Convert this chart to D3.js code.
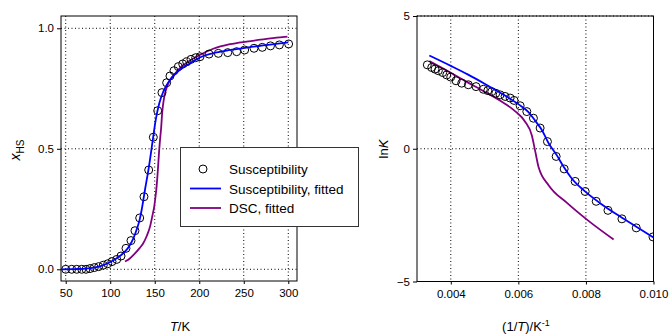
<!DOCTYPE html>
<html>
<head>
<meta charset="utf-8">
<script src="https://cdn.jsdelivr.net/npm/d3@7"></script>
<style>
  body { margin: 0; background: #fff; }
  svg text { font-family: "Liberation Sans", Arial, sans-serif; fill: #000; }
</style>
</head>
<body>
<script>
'use strict';

// left panel: spin fraction vs temperature
const suscT = [50, 56.7, 62.4, 68, 72.8, 77.3, 82.1, 87, 92.2, 97.2, 102, 107.3, 112.1, 117.7, 123.3, 127.8,
  133.1, 137.9, 143.2, 148.4, 153.3, 158.1, 163.4, 167.1, 171.6, 176.5, 181.4, 185.9, 190.7, 196, 200.8,
  211, 221.4, 232, 242, 251, 261.5, 270.8, 280, 290, 300.4];
const suscX = [0.0, 0.0, 0.0, 0.0, 0.0, 0.003, 0.007, 0.011, 0.017, 0.023, 0.032, 0.041, 0.055, 0.087, 0.119, 0.160,
  0.213, 0.301, 0.412, 0.548, 0.658, 0.733, 0.774, 0.802, 0.824, 0.841, 0.852, 0.861, 0.871, 0.878, 0.882,
  0.893, 0.896, 0.899, 0.903, 0.910, 0.917, 0.921, 0.927, 0.931, 0.935];

const fitT = [44.7, 60, 70, 80, 90, 100, 107, 112, 117, 122, 126, 130, 133, 135.3, 139, 143.5, 147.3, 151.1,
  155.1, 159.6, 167, 178, 190, 200, 215, 235, 255, 275, 300];
const fitX = [0.000, 0.001, 0.002, 0.006, 0.014, 0.030, 0.045, 0.058, 0.075, 0.100, 0.128, 0.168, 0.205, 0.246,
  0.329, 0.426, 0.523, 0.620, 0.689, 0.737, 0.785, 0.827, 0.855, 0.878, 0.896, 0.910, 0.921, 0.930, 0.942];

const dscT = [116.6, 122, 127.8, 133, 137.1, 141, 144.7, 147.5, 149.5, 150.8, 152, 153, 154, 155, 156, 157,
  158.5, 160, 161.5, 164, 167.1, 172, 178, 189.6, 200, 215.7, 234.5, 253.2, 271.9, 290.6, 299];
const dscX = [0.032, 0.045, 0.066, 0.088, 0.108, 0.138, 0.177, 0.225, 0.262, 0.300, 0.340, 0.385, 0.440, 0.495,
  0.540, 0.578, 0.655, 0.700, 0.730, 0.760, 0.785, 0.808, 0.834, 0.866, 0.888, 0.915, 0.934, 0.945, 0.954, 0.962, 0.965];

// right panel: ln K vs 1/T
const suscInvT = [0.003306, 0.003435, 0.003533, 0.003632, 0.003761, 0.00388, 0.003998, 0.004156, 0.004324,
  0.00452, 0.004748, 0.004964, 0.005095, 0.005213, 0.005332, 0.005459, 0.005607, 0.005756, 0.005874,
  0.006052, 0.00625, 0.006446, 0.006644, 0.006861, 0.007119, 0.007356, 0.007681, 0.007978, 0.008304,
  0.008652, 0.009065, 0.009489, 0.009984];
const suscLnK = [3.16, 3.06, 3.00, 2.94, 2.87, 2.78, 2.70, 2.56, 2.47, 2.41, 2.34, 2.24, 2.19, 2.15, 2.09, 2.03,
  1.97, 1.91, 1.82, 1.62, 1.40, 1.15, 0.78, 0.27, -0.29, -0.76, -1.23, -1.61, -1.98, -2.32, -2.64, -2.98, -3.32];

const fitInvT = [0.003365, 0.0040, 0.0045, 0.0050, 0.0055, 0.0060, 0.0063, 0.0065, 0.0067, 0.0069, 0.00714,
  0.00734, 0.00758, 0.00793, 0.00842, 0.00892, 0.00941, 0.0100];
const fitLnK = [3.51, 3.12, 2.80, 2.45, 2.08, 1.68, 1.38, 1.05, 0.70, 0.20, -0.25, -0.68, -1.12, -1.56, -2.05,
  -2.48, -2.87, -3.34];

const dscInvT = [0.003365, 0.0040, 0.0045, 0.0050, 0.0055, 0.0059, 0.0062, 0.0064, 0.0065, 0.0066, 0.0069,
  0.00744, 0.00803, 0.00882];
const dscLnK = [3.30, 2.86, 2.50, 2.15, 1.78, 1.42, 1.02, 0.50, -0.10, -0.70, -1.38, -2.04, -2.67, -3.42];

const leftXTicks = [50, 100, 150, 200, 250, 300];
const leftYTicks = [0, 0.5, 1.0];
const rightXTicks = [0.004, 0.006, 0.008, 0.010];
const rightYTicks = [-5, 0, 5];
const legendLabels = ["Susceptibility", "Susceptibility, fitted", "DSC, fitted"];

const blue = "#0000ff";
const purple = "#800080";

const svg = d3.select("body").append("svg")
  .attr("width", 670)
  .attr("height", 336);

function zip(a, b) { return a.map((v, i) => [v, b[i]]); }

// draws one panel, returns the scales
function drawPanel(opt) {
  let x = d3.scaleLinear().domain(opt.xDomain).range([opt.left, opt.right]);
  let y = d3.scaleLinear().domain(opt.yDomain).range([opt.bottom, opt.top]);

  let g = svg.append("g");

  // dotted grid
  g.selectAll(".gx").data(opt.xTicks).enter().append("line")
    .attr("x1", d => x(d)).attr("x2", d => x(d))
    .attr("y1", opt.top).attr("y2", opt.bottom)
    .attr("stroke", "#000").attr("stroke-width", 1).attr("stroke-dasharray", "1,2.5");
  g.selectAll(".gy").data(opt.yTicks).enter().append("line")
    .attr("x1", opt.left).attr("x2", opt.right)
    .attr("y1", d => y(d)).attr("y2", d => y(d))
    .attr("stroke", "#000").attr("stroke-width", 1).attr("stroke-dasharray", "1,2.5");

  // axes
  let xAxis = d3.axisBottom(x).tickValues(opt.xTicks).tickFormat(opt.xFormat).tickSize(3).tickPadding(5);
  let gx = g.append("g").attr("transform", "translate(0," + opt.bottom + ")").call(xAxis);
  let yAxis = d3.axisLeft(y).tickValues(opt.yTicks).tickFormat(opt.yFormat).tickSize(4).tickPadding(3);
  let gy = g.append("g").attr("transform", "translate(" + opt.left + ",0)").call(yAxis);
  [gx, gy].forEach(a => {
    a.select(".domain").remove();
    a.selectAll("text").style("font-size", "11.5px").style("font-family", "Liberation Sans, Arial, sans-serif");
  });

  // frame
  g.append("rect")
    .attr("x", opt.left).attr("y", opt.top)
    .attr("width", opt.right - opt.left).attr("height", opt.bottom - opt.top)
    .attr("fill", "none").attr("stroke", "#000").attr("stroke-width", 1);

  let clipId = "clip" + opt.id;
  svg.append("clipPath").attr("id", clipId).append("rect")
    .attr("x", opt.left).attr("y", opt.top)
    .attr("width", opt.right - opt.left).attr("height", opt.bottom - opt.top);

  let line = d3.line().x(d => x(d[0])).y(d => y(d[1])).curve(d3.curveMonotoneX);
  let plot = g.append("g").attr("clip-path", "url(#" + clipId + ")");

  plot.append("path").datum(opt.dsc)
    .attr("fill", "none").attr("stroke", purple).attr("stroke-width", 1.8).attr("d", line);

  plot.selectAll("circle").data(opt.points).enter().append("circle")
    .attr("cx", d => x(d[0])).attr("cy", d => y(d[1])).attr("r", 4)
    .attr("fill", "none").attr("stroke", "#000").attr("stroke-width", 1);

  plot.append("path").datum(opt.fit)
    .attr("fill", "none").attr("stroke", blue).attr("stroke-width", 1.8).attr("d", line);

  return { x: x, y: y };
}

drawPanel({
  id: "L", left: 61, right: 297, top: 16, bottom: 281,
  xDomain: [44.7, 309.8], yDomain: [-0.0486, 1.051],
  xTicks: leftXTicks, yTicks: leftYTicks,
  xFormat: d3.format("d"), yFormat: d3.format(".1f"),
  points: zip(suscT, suscX), fit: zip(fitT, fitX), dsc: zip(dscT, dscX)
});

drawPanel({
  id: "R", left: 417, right: 653.5, top: 16, bottom: 281.5,
  xDomain: [0.003, 0.010], yDomain: [-5, 5],
  xTicks: rightXTicks, yTicks: rightYTicks,
  xFormat: d3.format(".3f"), yFormat: d3.format("d"),
  points: zip(suscInvT, suscLnK), fit: zip(fitInvT, fitLnK), dsc: zip(dscInvT, dscLnK)
});

// axis titles
let tl = svg.append("text").attr("x", 180).attr("y", 331)
  .attr("text-anchor", "middle").style("font-size", "13px");
tl.append("tspan").style("font-style", "italic").text("T");
tl.append("tspan").text("/K");

let tr = svg.append("text").attr("x", 526).attr("y", 331)
  .attr("text-anchor", "middle").style("font-size", "13px");
tr.append("tspan").text("(1/");
tr.append("tspan").style("font-style", "italic").text("T");
tr.append("tspan").text(")/K");
tr.append("tspan").attr("dy", -5).style("font-size", "9px").text("-1");

let yl = svg.append("text").attr("transform", "translate(20,150)rotate(-90)")
  .attr("text-anchor", "middle").style("font-size", "14px");
yl.append("tspan").style("font-style", "italic").text("x");
yl.append("tspan").attr("dy", 4).style("font-size", "10px").text("HS");

let yr = svg.append("text").attr("transform", "translate(388,149)rotate(-90)")
  .attr("text-anchor", "middle").style("font-size", "13px");
yr.append("tspan").text("ln");
yr.append("tspan").style("font-style", "italic").text("K");

// legend
let lg = svg.append("g");
lg.append("rect")
  .attr("x", 180.5).attr("y", 147.5).attr("width", 178).attr("height", 79)
  .attr("fill", "#fff").attr("stroke", "#333").attr("stroke-width", 1);

let rows = [169, 188.5, 208];
lg.append("circle").attr("cx", 203).attr("cy", rows[0]).attr("r", 4)
  .attr("fill", "none").attr("stroke", "#000");
lg.append("line").attr("x1", 190).attr("x2", 221).attr("y1", rows[1]).attr("y2", rows[1])
  .attr("stroke", blue).attr("stroke-width", 1.8);
lg.append("line").attr("x1", 190).attr("x2", 221).attr("y1", rows[2]).attr("y2", rows[2])
  .attr("stroke", purple).attr("stroke-width", 1.8);
lg.selectAll(".lt").data(legendLabels).enter().append("text")
  .attr("x", 229).attr("y", (d, i) => rows[i] + 5)
  .style("font-size", "13.5px")
  .text(d => d);
</script>
</body>
</html>
